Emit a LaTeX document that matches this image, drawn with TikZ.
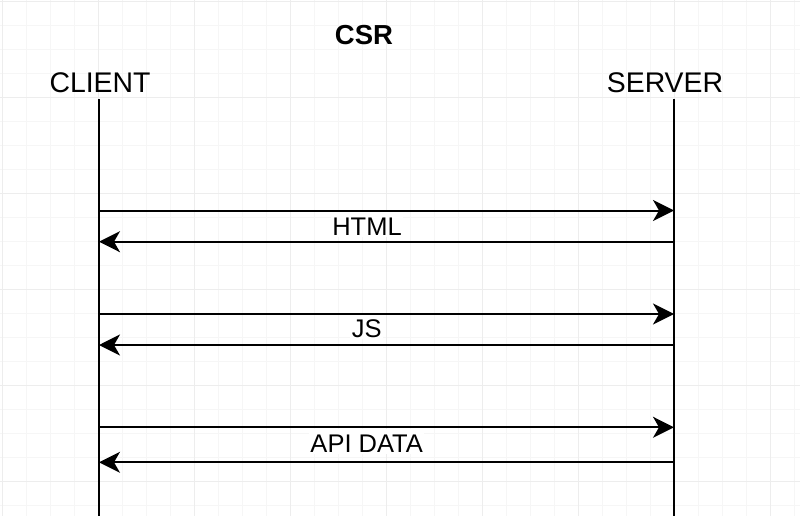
\documentclass[tikz,border=0pt]{standalone}
\usepackage{fontspec}
\setmainfont{Liberation Sans}
\usetikzlibrary{arrows.meta}

\begin{document}
\begin{tikzpicture}[x=1pt,y=-1pt,>={Stealth[length=21pt,width=21pt,inset=6pt]},
      gridminor/.style={draw=black!3.5,line width=0.6pt},
      gridmajor/.style={draw=black!7,line width=0.8pt},
      lifeline/.style={line width=2pt},
      msg/.style={->,line width=2pt},
      heading/.style={anchor=base,inner sep=0pt,font=\bfseries\fontsize{27.5}{33}\selectfont},
      actor/.style={anchor=base,inner sep=0pt,font=\fontsize{28.4}{34}\selectfont},
      msgtext/.style={anchor=base,fill=white,inner sep=1.5pt,text height=21.5pt,
        font=\fontsize{25.5}{31}\selectfont}]
    \useasboundingbox[fill=white] (0,0) rectangle (800,516);
    % background grid
    \foreach \i in {0,...,33} \draw[gridminor] (2.7+24*\i,0) -- (2.7+24*\i,516);
    \foreach \i in {0,...,21} \draw[gridminor] (0,1.7+24*\i) -- (800,1.7+24*\i);
    \foreach \i in {0,...,8} \draw[gridmajor] (2.7+96*\i,0) -- (2.7+96*\i,516);
    \foreach \i in {0,...,5} \draw[gridmajor] (0,1.7+96*\i) -- (800,1.7+96*\i);

    \node[heading] (csr) at (364,45) {CSR};
    \node[actor] (client) at (100,92.7) {CLIENT};
    \node[actor] (server) at (665,92.7) {SERVER};

    \coordinate (clienttop) at (99,99);
    \coordinate (clientend) at (99,516);
    \coordinate (servertop) at (674,99);
    \coordinate (serverend) at (674,516);
    \draw[lifeline] (clienttop) -- (clientend);
    \draw[lifeline] (servertop) -- (serverend);

    \foreach \n/\y in {1/210.5,2/241.7,3/314,4/345,5/427.3,6/462.3} {
      \coordinate (c\n) at (99,\y);
      \coordinate (s\n) at (674,\y);
    }
    \path
    (c1) edge[msg] (s1)
    (s2) edge[msg] (c2)
    (c3) edge[msg] (s3)
    (s4) edge[msg] (c4)
    (c5) edge[msg] (s5)
    (s6) edge[msg] (c6)
    ;

    \node[msgtext] (html) at (367,235) {HTML};
    \node[msgtext] (js) at (366.7,337.5) {JS};
    \node[msgtext] (apidata) at (366.7,452.3) {API DATA};
  \end{tikzpicture}
\end{document}
